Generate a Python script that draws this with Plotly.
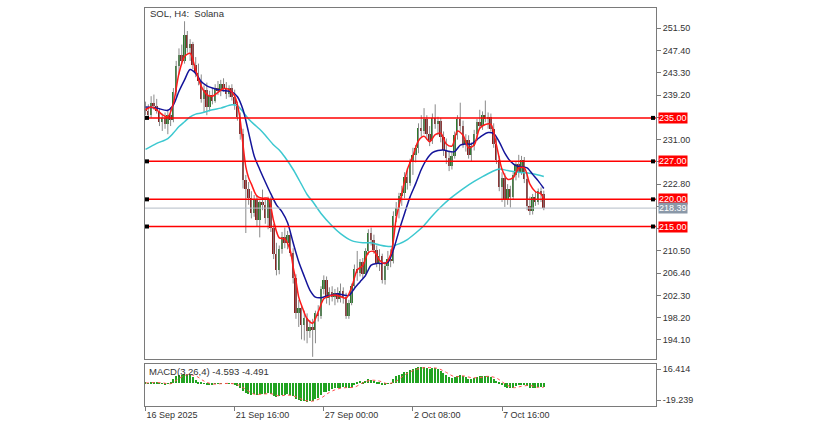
import pandas as pd
import plotly.graph_objects as go
from plotly.subplots import make_subplots

# ---------------- data ----------------
start_time = "2025-09-16 08:00"
n_bars = 144
dates = pd.date_range(start_time, periods=n_bars, freq="4h")

open_ = [236.8, 236.2, 235.5, 237.8, 237.2, 236.3, 234.2, 235.0, 233.8, 235.6,
         234.6, 239.8, 244.6, 246.5, 245.5, 250.2, 247.8, 248.6, 244.8, 243.2,
         241.8, 238.5, 240.2, 237.0, 239.2, 238.2, 240.6, 240.0, 241.2, 240.4,
         239.4, 240.5, 238.8, 237.5, 235.2, 232.0, 223.5, 222.0, 220.2, 217.5,
         220.0, 216.2, 219.5, 219.0, 216.5, 219.8, 214.8, 210.0, 207.0, 210.8,
         213.0, 212.0, 213.4, 210.2, 205.5, 199.0, 200.0, 196.8, 198.2, 195.8,
         196.5, 196.0, 199.0, 198.5, 203.5, 205.2, 201.8, 203.0, 202.0, 202.8,
         201.6, 203.2, 202.0, 198.6, 201.0, 204.0, 207.2, 206.5, 208.5, 206.2,
         210.5, 213.8, 212.5, 210.6, 208.2, 209.5, 205.2, 207.8, 209.0, 208.6,
         217.0, 218.5, 220.6, 221.2, 224.2, 223.0, 226.8, 228.2, 229.4, 233.2,
         232.5, 234.8, 232.0, 230.8, 235.0, 233.8, 234.5, 231.5, 229.0, 227.6,
         226.2, 228.0, 231.8, 234.8, 233.5, 230.2, 231.0, 228.2, 229.8, 232.0,
         234.2, 233.6, 235.6, 234.8, 235.2, 233.0, 230.2, 227.2, 222.3, 224.0,
         219.8, 222.0, 220.5, 224.5, 226.5, 225.0, 227.2, 223.8, 218.8, 217.8,
         220.5, 219.5, 221.6, 221.0]
high = [238.0, 237.5, 239.0, 239.3, 238.5, 236.8, 235.8, 236.0, 236.5, 237.0,
        240.5, 245.5, 247.8, 248.5, 252.8, 251.0, 249.5, 249.0, 246.2, 245.0,
        243.0, 241.0, 241.5, 240.0, 240.5, 241.2, 241.8, 242.0, 242.3, 241.6,
        241.0, 241.2, 240.2, 238.0, 236.0, 233.0, 224.5, 223.2, 221.5, 220.8,
        220.8, 219.8, 221.8, 220.0, 220.5, 220.5, 215.5, 212.0, 211.5, 214.0,
        214.8, 214.2, 214.0, 211.0, 206.2, 201.5, 200.5, 199.5, 199.0, 197.8,
        198.0, 199.5, 200.5, 204.0, 206.0, 205.8, 203.8, 204.0, 203.5, 203.8,
        204.5, 203.8, 202.8, 201.5, 204.5, 208.0, 210.5, 209.0, 209.2, 211.0,
        214.5, 214.8, 213.5, 211.5, 210.8, 210.0, 208.5, 210.5, 210.8, 217.8,
        219.5, 221.2, 222.5, 225.0, 225.8, 227.5, 229.5, 230.0, 234.0, 235.5,
        236.8, 235.5, 233.5, 235.8, 237.5, 235.2, 235.0, 232.5, 231.2, 229.0,
        228.8, 232.5, 235.5, 237.8, 234.5, 232.0, 231.8, 230.5, 232.8, 234.8,
        236.5, 236.2, 238.2, 236.0, 235.8, 234.0, 231.5, 228.0, 225.0, 224.8,
        222.8, 222.5, 225.0, 227.0, 228.2, 228.0, 227.8, 225.0, 220.5, 221.0,
        221.5, 222.0, 222.2, 221.6]
low = [235.5, 234.8, 235.0, 236.5, 235.8, 233.5, 232.6, 233.0, 232.0, 233.5,
       234.2, 239.0, 243.0, 244.8, 245.0, 247.0, 245.5, 244.0, 242.5, 241.0,
       237.8, 236.0, 235.5, 236.2, 237.5, 237.8, 239.2, 239.0, 239.8, 238.5,
       238.8, 238.2, 236.5, 234.5, 231.0, 222.0, 213.8, 219.0, 216.5, 216.8,
       215.0, 213.0, 218.0, 215.5, 214.5, 214.0, 209.0, 206.0, 206.2, 210.0,
       211.0, 210.8, 209.5, 204.5, 198.0, 196.5, 194.2, 194.0, 193.5, 194.5,
       191.0, 193.5, 197.5, 198.0, 202.5, 200.8, 200.5, 201.2, 200.5, 201.0,
       201.0, 200.8, 198.0, 198.0, 200.5, 203.5, 205.0, 205.8, 205.5, 205.8,
       209.8, 211.5, 210.0, 207.5, 206.8, 204.5, 204.3, 207.0, 207.5, 208.2,
       215.8, 216.5, 218.8, 220.2, 221.8, 222.5, 224.5, 226.8, 228.5, 231.5,
       232.0, 231.0, 229.8, 230.2, 233.0, 231.8, 230.5, 228.0, 226.5, 225.2,
       225.5, 227.5, 231.0, 232.5, 229.5, 228.8, 227.5, 227.0, 229.0, 230.8,
       233.0, 232.8, 234.2, 233.0, 232.5, 229.5, 226.5, 221.5, 219.5, 218.6,
       219.0, 218.5, 220.0, 223.5, 224.0, 224.5, 223.0, 218.0, 217.1, 217.2,
       218.8, 219.0, 219.5, 218.0]
close = [236.2, 235.5, 237.8, 237.2, 236.3, 234.2, 235.0, 233.8, 235.6, 234.6,
         239.8, 244.6, 246.5, 245.5, 250.2, 247.8, 248.6, 244.8, 243.2, 241.8,
         238.5, 240.2, 237.0, 239.2, 238.2, 240.6, 240.0, 241.2, 240.4, 239.4,
         240.5, 238.8, 237.5, 235.2, 232.0, 223.5, 222.0, 220.2, 217.5, 220.0,
         216.2, 219.5, 219.0, 216.5, 219.8, 214.8, 210.0, 207.0, 210.8, 213.0,
         212.0, 213.4, 210.2, 205.5, 199.0, 200.0, 196.8, 198.2, 195.8, 196.5,
         196.0, 199.0, 198.5, 203.5, 205.2, 201.8, 203.0, 202.0, 202.8, 201.6,
         203.2, 202.0, 198.6, 201.0, 204.0, 207.2, 206.5, 208.5, 206.2, 210.5,
         213.8, 212.5, 210.6, 208.2, 209.5, 205.2, 207.8, 209.0, 208.6, 217.0,
         218.5, 220.6, 221.2, 224.2, 223.0, 226.8, 228.2, 229.4, 233.2, 232.5,
         234.8, 232.0, 230.8, 235.0, 233.8, 234.5, 231.5, 229.0, 227.6, 226.2,
         228.0, 231.8, 234.8, 233.5, 230.2, 231.0, 228.2, 229.8, 232.0, 234.2,
         233.6, 235.6, 234.8, 235.2, 233.0, 230.2, 227.2, 222.3, 224.0, 219.8,
         222.0, 220.5, 224.5, 226.5, 225.0, 227.2, 223.8, 218.8, 217.8, 220.5,
         219.5, 221.6, 221.0, 218.39]

# moving averages at selected bars
red_ma_bars = [0, 2, 4, 6, 8, 10, 12, 14, 16, 18, 20, 22, 24, 26, 28, 30, 32, 33, 34, 35,
               36, 37, 38, 40, 42, 44, 46, 48, 50, 52, 53, 54, 55, 56, 58, 60, 62, 64, 66, 68,
               70, 72, 74, 76, 78, 80, 82, 84, 86, 88, 89, 90, 92, 94, 96, 98, 100, 102, 104, 106,
               108, 110, 112, 114, 116, 118, 120, 122, 124, 126, 128, 130, 132, 134, 136, 138, 140, 142, 143]
red_ma = [236.5, 237.0, 236.5, 235.6, 235.2, 237.7, 243.2, 246.3, 246.9, 243.8,
          240.8, 239.3, 239.0, 239.7, 240.4, 240.2, 239.0, 237.4, 234.5, 230.0,
          226.0, 224.0, 222.8, 220.6, 220.2, 220.2, 216.0, 212.9, 212.7, 210.5,
          207.5, 205.0, 202.0, 200.5, 198.0, 197.2, 199.3, 201.7, 202.2, 202.4,
          202.1, 201.8, 203.8, 207.0, 207.8, 210.2, 210.4, 208.8, 208.2, 209.8,
          212.5, 216.5, 221.0, 225.5, 228.0, 230.8, 231.6, 230.6, 231.9, 232.2,
          230.2, 229.8, 232.6, 231.8, 229.5, 230.0, 233.1, 233.8, 233.8, 230.0,
          225.5, 223.7, 224.0, 225.8, 225.8, 222.8, 221.4, 221.0, 220.0]

blue_ma_bars = [0, 4, 8, 10, 12, 14, 16, 18, 20, 22, 24, 27, 31, 33, 35, 37, 39, 41, 43, 45,
                47, 49, 51, 53, 55, 57, 59, 61, 63, 65, 67, 69, 71, 73, 75, 77, 79, 81, 83, 85,
                87, 89, 91, 93, 95, 97, 99, 101, 103, 105, 107, 109, 111, 113, 115, 117, 119, 121, 123, 125,
                127, 129, 131, 133, 135, 137, 139, 141, 143]
blue_ma = [237.0, 236.8, 236.4, 237.4, 239.9, 242.0, 243.9, 243.2, 241.7, 240.9,
           240.5, 240.1, 239.8, 238.9, 236.5, 232.3, 228.0, 225.5, 223.2, 221.0,
           219.0, 217.7, 215.7, 212.0, 208.5, 205.8, 203.3, 202.0, 201.9, 202.2,
           202.4, 202.6, 202.4, 202.3, 203.6, 204.8, 206.0, 207.9, 208.2, 208.2,
           208.4, 210.7, 214.2, 217.4, 220.5, 222.9, 225.5, 227.4, 228.6, 229.0,
           229.1, 228.8, 228.8, 230.0, 230.2, 230.2, 231.0, 231.8, 232.3, 232.1,
           230.6, 228.5, 227.0, 226.2, 226.0, 225.8, 224.6, 223.4, 222.0]

cyan_ma_bars = [0, 4, 8, 10, 12, 14, 16, 18, 20, 24, 27, 31, 33, 35, 37, 39, 41, 43, 46, 48,
                50, 53, 55, 58, 60, 63, 67, 70, 74, 78, 81, 84, 88, 91, 94, 97, 100, 103, 106, 109,
                112, 115, 118, 121, 124, 127, 130, 134, 138, 141, 143]
cyan_ma = [229.2, 230.3, 231.2, 232.2, 233.4, 234.3, 235.2, 235.7, 235.9, 236.5,
           236.8, 237.4, 237.2, 236.1, 234.8, 233.8, 232.9, 231.8, 230.0, 229.1,
           227.8, 225.5, 223.7, 220.9, 219.6, 217.4, 215.1, 213.7, 212.4, 212.0,
           212.0, 211.6, 211.3, 211.8, 212.6, 213.8, 215.2, 217.0, 218.6, 220.0,
           221.2, 222.3, 223.3, 224.2, 225.0, 225.6, 225.3, 225.0, 224.8, 224.5, 224.2]

macd_hist = [0.5, 0.3, 1.0, 1.5, 1.0, 0.2, -0.8, -1.0, -0.5,
             2, 5, 8, 9.5, 10, 10.5, 10, 9.5, 7, 4,
             2, 0.5, -0.5, -1, -1, -1.2, -0.5, -0.3, 0.2, 0, -0.3, -0.3, -0.8, -1.5,
             -3, -5, -9, -11, -12,
             -13, -12.5, -13.5, -12.5, -12, -12.5, -11.5, -12.5, -14.5, -16, -15, -13.5, -13,
             -12.5, -13, -15, -18, -19, -20, -20.5, -21, -20.5, -20,
             -18, -16.5, -13, -10, -10, -8.5,
             -7, -6, -5.5, -5, -4.5, -5, -6, -4.5,
             -1, 1.5, 2.5, 2, 3, 4.5,
             4, 3, 1.5, 1, -1, -1.5, -0.5, -0.5,
             5, 8, 9.5, 11, 13, 13.5, 15, 16.5,
             17.5, 18.5, 18.5, 19, 18, 16.5, 17.5,
             17, 16, 14, 11.5, 9, 7, 6, 7, 8.5,
             10, 8.5, 7, 5, 5, 6, 7, 8,
             8, 8.5, 8, 7, 5, 3, 0.5,
             -2, -4.5, -5, -6, -5, -3, -1.5, -1,
             -1, -3, -5.5, -6, -5, -4.5, -4, -4.593]
signal_bars = list(range(0, 142, 3)) + [143]
macd_signal = [0.3, 0.8, 0.5, -0.5, 5.5, 9.8, 8.5, 2.5, -0.8, -0.5,
               -0.2, -1.5, -7, -12.5, -12.5, -12, -14.5, -13.5, -15.5, -19.5,
               -20.5, -17, -10.5, -6.5, -5, -4.5, 0.5, 3.5, 2.5, -0.5,
               2.5, 9.5, 14.5, 17.5, 18, 17, 12.5, 7.5, 8.5, 6.5,
               6.5, 8, 6, -0.5, -5, -3.5, -2.5, -4.8, -4.491]

level_lines = [235.00, 227.00, 220.00, 215.00]
bid_price = 218.39

price_ticks = [251.5, 247.4, 243.3, 239.2, 235.1, 231.0, 226.9, 222.8, 218.7,
               214.6, 210.5, 206.4, 202.3, 198.2, 194.1]
price_tick_text = ["251.50", "247.40", "243.30", "239.20", "", "231.00", "",
                   "222.80", "", "", "210.50", "206.40", "202.30", "198.20", "194.10"]
macd_ticks = [16.414, -19.239]
macd_tick_text = ["16.414", "-19.239"]
time_ticks = ["2025-09-16 08:00", "2025-09-21 16:00", "2025-09-27 00:00",
              "2025-10-02 08:00", "2025-10-07 16:00"]
time_tick_text = ["16 Sep 2025", "21 Sep 16:00", "27 Sep 00:00", "2 Oct 08:00", "7 Oct 16:00"]

title_text = "SOL, H4:  Solana"
macd_text = "MACD(3,26,4) -4.593 -4.491"

# ---------------- figure ----------------
FONT = "Liberation Sans, Arial, sans-serif"
BAR = pd.Timedelta(hours=4)
BAR_MS = 4 * 3600 * 1000
W, H = 836, 424
ML, MR, MT, MB = 145, 180, 8, 18
PW = W - ML - MR
PH = H - MT - MB

fig = make_subplots(rows=2, cols=1, shared_xaxes=True)

# candle wicks
wx, wy = [], []
for d, h, l in zip(dates, high, low):
    wx += [d, d, None]
    wy += [l, h, None]
fig.add_trace(go.Scatter(x=wx, y=wy, mode="lines", line=dict(color="#8a8a8a", width=1),
                         hoverinfo="skip"), row=1, col=1)
# candle bodies
body_base = [min(o, c) for o, c in zip(open_, close)]
body_len = [max(abs(c - o), 0.15) for o, c in zip(open_, close)]
body_col = ["#2a7a2a" if c >= o else "#8b1e1e" for o, c in zip(open_, close)]
fig.add_trace(go.Bar(x=dates, y=body_len, base=body_base, width=BAR_MS * 0.7,
                     marker=dict(color=body_col, line=dict(width=0))), row=1, col=1)

# moving averages
fig.add_trace(go.Scatter(x=[dates[i] for i in cyan_ma_bars], y=cyan_ma, mode="lines",
                         line=dict(color="#3cc8d0", width=1.5, shape="spline", smoothing=0.8)),
              row=1, col=1)
fig.add_trace(go.Scatter(x=[dates[i] for i in blue_ma_bars], y=blue_ma, mode="lines",
                         line=dict(color="#14149a", width=1.5, shape="spline", smoothing=0.8)),
              row=1, col=1)
fig.add_trace(go.Scatter(x=[dates[i] for i in red_ma_bars], y=red_ma, mode="lines",
                         line=dict(color="#ff1a1a", width=1.5, shape="spline", smoothing=0.8)),
              row=1, col=1)

# MACD
fig.add_trace(go.Bar(x=dates, y=macd_hist, width=BAR_MS * 0.45,
                     marker=dict(color="#22a322", line=dict(width=0))), row=2, col=1)
fig.add_trace(go.Scatter(x=[dates[i] for i in signal_bars], y=macd_signal, mode="lines",
                         line=dict(color="#ff5050", width=1, dash="dot", shape="spline")),
              row=2, col=1)

shapes = []
annotations = []
for lv in level_lines:
    shapes.append(dict(type="line", xref="paper", yref="y", x0=0, x1=1, y0=lv, y1=lv,
                       line=dict(color="#ff0000", width=1.5)))
    for xa in [(147 - ML) / PW, (653 - ML) / PW]:
        shapes.append(dict(type="rect", xref="paper", yref="y", xsizemode="pixel",
                           ysizemode="pixel", xanchor=xa, yanchor=lv, x0=-2, x1=2, y0=-2, y1=2,
                           fillcolor="#000000", line=dict(width=0)))
    annotations.append(dict(xref="paper", yref="y", x=1 + 2 / PW, y=lv, xanchor="left",
                            yanchor="middle", text=f"{lv:.2f}", showarrow=False,
                            bgcolor="#ff0000", borderpad=0,
                            font=dict(family=FONT, size=9, color="#ffffff")))
shapes.append(dict(type="line", xref="paper", yref="y", x0=0, x1=1, y0=bid_price, y1=bid_price,
                   line=dict(color="#b4bcc6", width=1)))
annotations.append(dict(xref="paper", yref="y", x=1 + 2 / PW, y=bid_price, xanchor="left",
                        yanchor="middle", text=f"{bid_price:.2f}", showarrow=False,
                        bgcolor="#8a98a8", borderpad=0,
                        font=dict(family=FONT, size=9, color="#ffffff")))
annotations.append(dict(xref="paper", yref="paper", x=(148 - ML) / PW, y=(H - MB - 14) / PH,
                        xanchor="left", yanchor="middle", text=title_text, showarrow=False,
                        font=dict(family=FONT, size=9.5, color="#333333")))
annotations.append(dict(xref="paper", yref="paper", x=(147 - ML) / PW, y=(H - MB - 371) / PH,
                        xanchor="left", yanchor="middle", text=macd_text, showarrow=False,
                        font=dict(family=FONT, size=9.5, color="#333333")))

x_left = dates[0] - 0.2 * BAR
x_right = x_left + (PW / 2.785) * BAR

fig.update_layout(
    width=W, height=H, autosize=False,
    margin=dict(l=ML, r=MR, t=MT, b=MB, autoexpand=False),
    paper_bgcolor="#ffffff", plot_bgcolor="#ffffff",
    showlegend=False, barmode="overlay", bargap=0,
    shapes=shapes, annotations=annotations,
    font=dict(family=FONT, size=9, color="#333333"),
)
axis_common = dict(showgrid=False, zeroline=False, showline=True, mirror=True,
                   linecolor="#7a7a7a", linewidth=1, automargin=False)
fig.update_xaxes(type="date", range=[x_left, x_right], **axis_common)
fig.update_xaxes(showticklabels=False, ticks="", row=1, col=1)
fig.update_xaxes(tickvals=time_ticks, ticktext=time_tick_text, ticks="outside", ticklen=4,
                 tickcolor="#7a7a7a", ticklabelposition="outside right",
                 tickfont=dict(family=FONT, size=9, color="#333333"), row=2, col=1)
fig.update_yaxes(side="right", ticks="outside", ticklen=4, tickcolor="#7a7a7a",
                 tickfont=dict(family=FONT, size=9, color="#333333"), **axis_common)
fig.update_layout(
    yaxis=dict(domain=[(H - MB - 359) / PH, 1], range=[190.6, 255.24],
               tickvals=price_ticks, ticktext=price_tick_text),
    yaxis2=dict(domain=[0, (H - MB - 364) / PH], range=[-26.14, 22.16],
                tickvals=macd_ticks, ticktext=macd_tick_text),
)

fig.write_html("out.html", config={"displayModeBar": False},
               post_script="document.body.style.margin='0px';")
